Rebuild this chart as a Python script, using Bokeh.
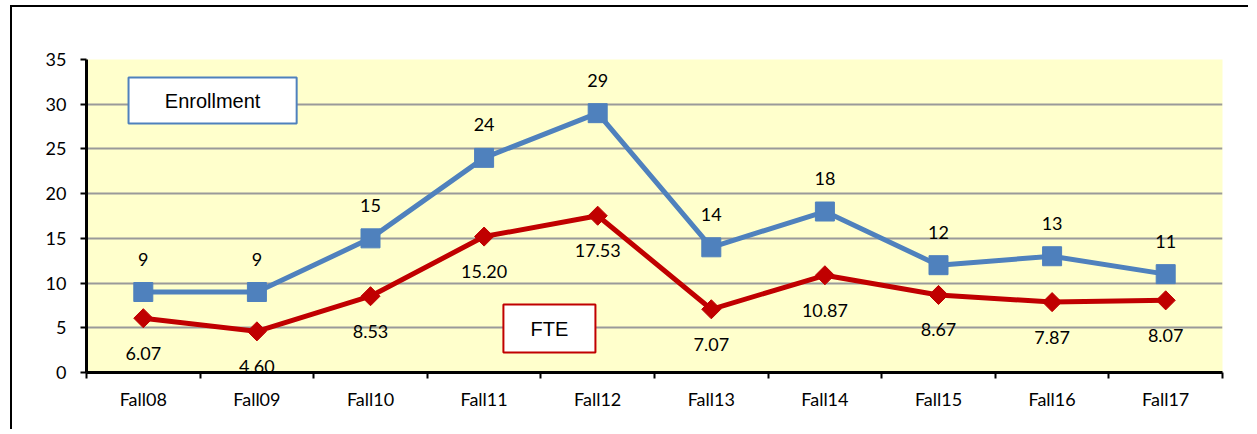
import math
from bokeh.plotting import figure
from bokeh.models import (ColumnDataSource, Range1d, FixedTicker, LabelSet,
                          BoxAnnotation, Label)
from bokeh.core.properties import value
from bokeh.embed import file_html
from bokeh.resources import INLINE

categories = ["Fall08", "Fall09", "Fall10", "Fall11", "Fall12",
              "Fall13", "Fall14", "Fall15", "Fall16", "Fall17"]
enrollment = [9, 9, 15, 24, 29, 14, 18, 12, 13, 11]
fte = [6.07, 4.60, 8.53, 15.20, 17.53, 7.07, 10.87, 8.67, 7.87, 8.07]
enrollment_labels = [str(v) for v in enrollment]
fte_labels = ["%.2f" % v for v in fte]
y_ticks = [0, 5, 10, 15, 20, 25, 30, 35]

BLUE = "#4F81BD"
RED = "#C00000"
FONT = "Lato"
FSIZE = "18px"

xpos = [i + 0.5 for i in range(len(categories))]
src = ColumnDataSource(dict(x=xpos, cat=categories, enr=enrollment, fte=fte,
                            enr_lab=enrollment_labels, fte_lab=fte_labels))

p = figure(width=1238, height=424, output_backend="svg", toolbar_location=None,
           x_range=Range1d(0, len(categories)), y_range=Range1d(0, 35))
p.styles = {"border-left": "2px solid black", "border-top": "2px solid black",
            "margin-left": "10px", "margin-top": "5px"}
p.min_border_left = 74
p.min_border_right = 28
p.min_border_top = 52
p.min_border_bottom = 59
p.background_fill_color = "#FFFFCC"
p.border_fill_color = "white"
p.outline_line_color = None

# grid
p.xgrid.grid_line_color = None
p.ygrid.ticker = FixedTicker(ticks=y_ticks)
p.ygrid.grid_line_color = "#9A9A9A"
p.ygrid.grid_line_width = 2

# y axis
p.yaxis.ticker = FixedTicker(ticks=y_ticks)
p.yaxis.axis_line_width = 3
p.yaxis.axis_line_color = "black"
p.yaxis.major_tick_out = 6
p.yaxis.major_tick_in = 0
p.yaxis.major_tick_line_width = 2
p.yaxis.minor_tick_line_color = None
p.yaxis.major_label_standoff = 14
p.yaxis.major_label_text_font = FONT
p.yaxis.major_label_text_font_size = FSIZE
p.yaxis.major_label_text_color = "black"

# x axis: labels at category centers, ticks at boundaries
p.xaxis.ticker = FixedTicker(ticks=xpos, minor_ticks=list(range(len(categories) + 1)))
p.xaxis.major_label_overrides = {x: c for x, c in zip(xpos, categories)}
p.xaxis.axis_line_width = 3
p.xaxis.axis_line_color = "black"
p.xaxis.major_tick_out = 0
p.xaxis.major_tick_in = 0
p.xaxis.minor_tick_out = 6
p.xaxis.minor_tick_in = 0
p.xaxis.minor_tick_line_width = 2
p.xaxis.minor_tick_line_color = "black"
p.xaxis.major_label_standoff = 9
p.xaxis.major_label_text_font = FONT
p.xaxis.major_label_text_font_size = FSIZE
p.xaxis.major_label_text_color = "black"

# series
p.line("x", "enr", source=src, line_color=BLUE, line_width=5)
p.scatter("x", "enr", source=src, marker="square", size=19,
          fill_color=BLUE, line_color=BLUE)
p.line("x", "fte", source=src, line_color=RED, line_width=5)
p.scatter("x", "fte", source=src, marker="square", size=13.5, angle=math.pi / 4,
          fill_color=RED, line_color=RED)

# data labels
p.add_layout(LabelSet(x="x", y="enr", text="enr_lab", source=src, y_offset=33,
                      text_align="center", text_baseline="middle",
                      text_font=value(FONT), text_font_size=FSIZE, text_color="black"))
p.add_layout(LabelSet(x="x", y="fte", text="fte_lab", source=src, y_offset=-35,
                      text_align="center", text_baseline="middle",
                      text_font=value(FONT), text_font_size=FSIZE, text_color="black"))

# legend-like text boxes
p.add_layout(BoxAnnotation(left=0.37, right=1.85, bottom=27.85, top=33.0,
                           fill_color="white", fill_alpha=1,
                           line_color=BLUE, line_alpha=1, line_width=2))
p.add_layout(Label(x=1.11, y=30.4, text="Enrollment", text_align="center",
                   text_baseline="middle", text_font="Liberation Sans",
                   text_font_size="20px", text_color="black"))
p.add_layout(BoxAnnotation(left=3.67, right=4.48, bottom=2.24, top=7.6,
                           fill_color="white", fill_alpha=1,
                           line_color=RED, line_alpha=1, line_width=2))
p.add_layout(Label(x=4.075, y=4.9, text="FTE", text_align="center",
                   text_baseline="middle", text_font="Liberation Sans",
                   text_font_size="20px", text_color="black"))

open("out.html", "w").write(file_html(p, INLINE))
